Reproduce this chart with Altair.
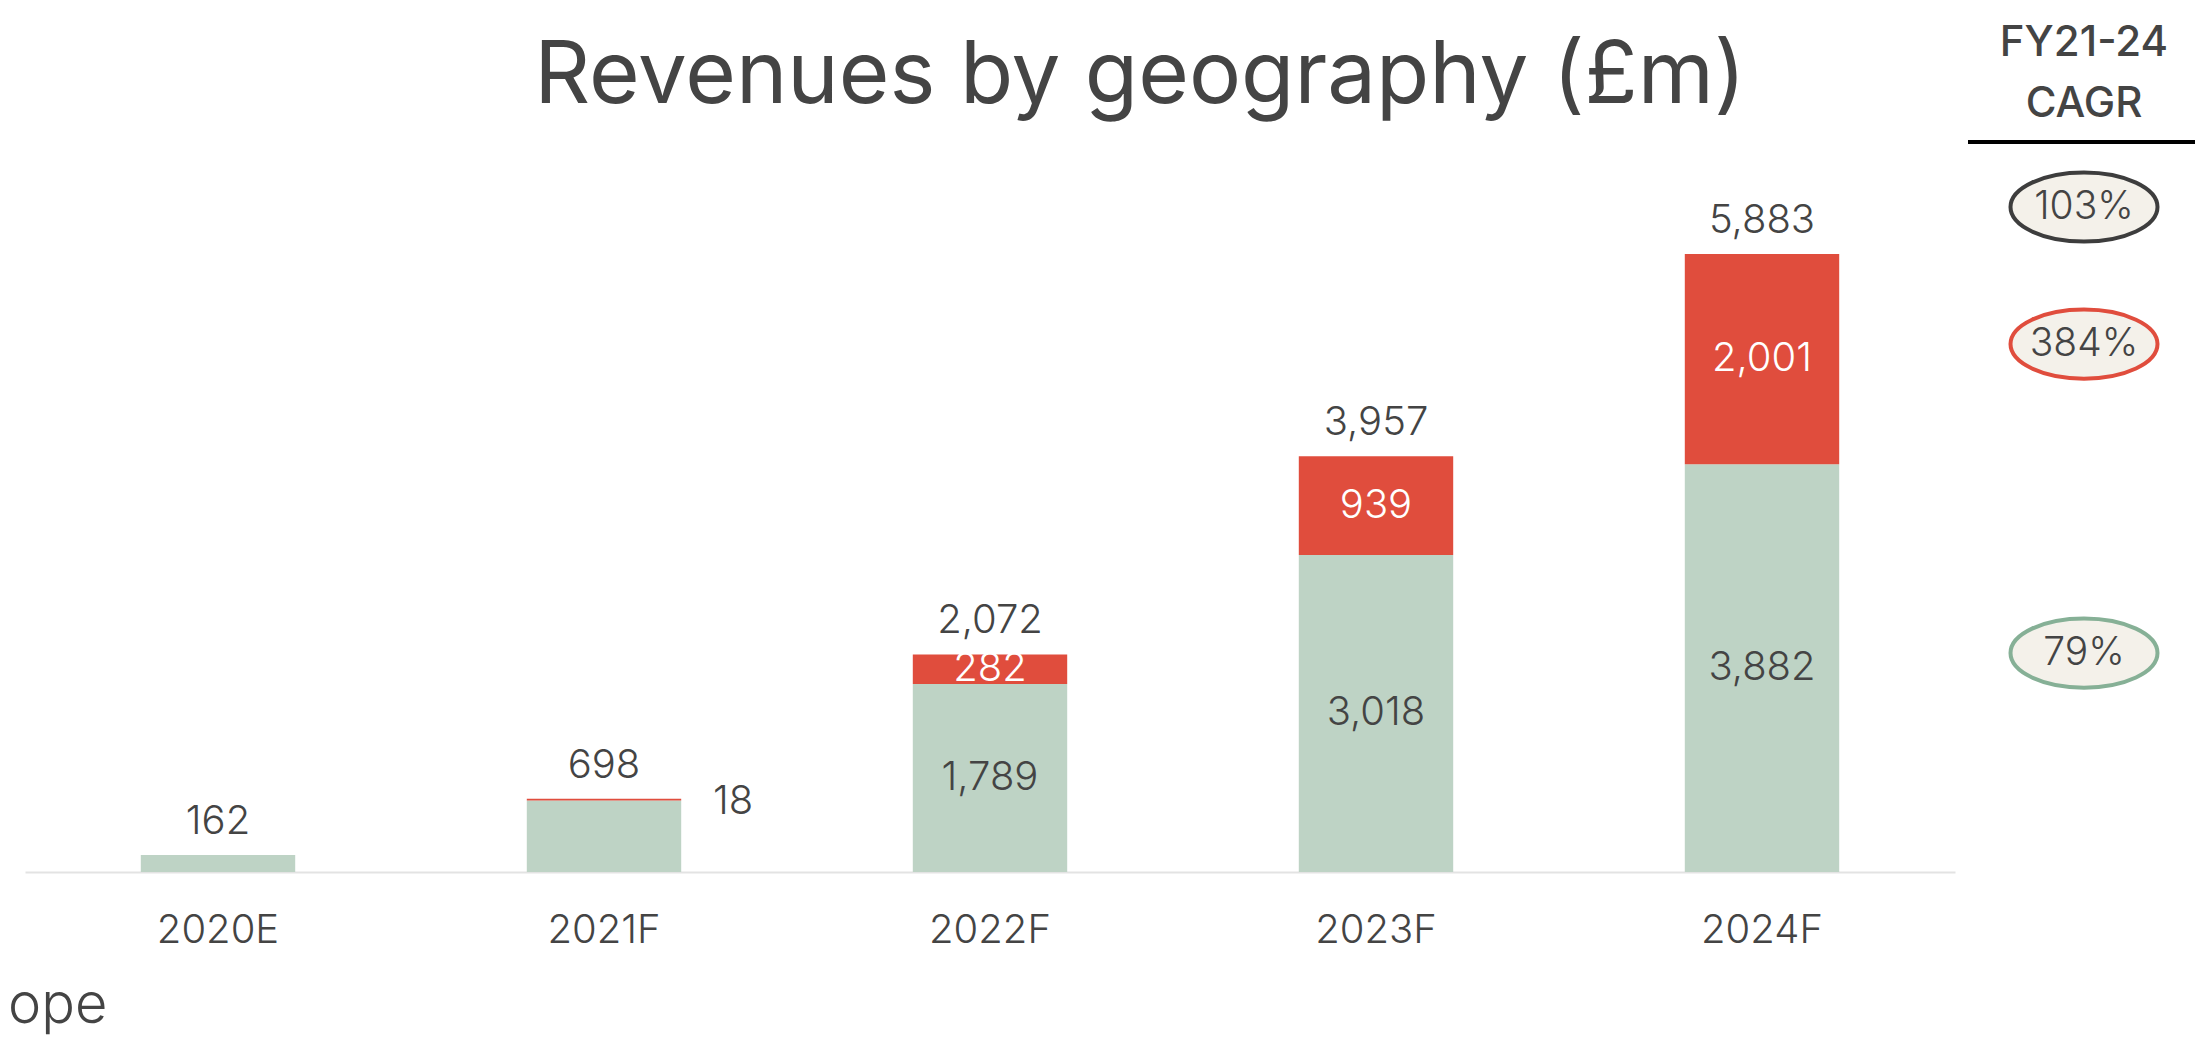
import altair as alt
import pandas as pd

# ---------------- data ----------------
years = ["2020E", "2021F", "2022F", "2023F", "2024F"]
uk_values = [162, 680, 1789, 3018, 3882]
europe_values = [0, 18, 282, 939, 2001]
total_values = [162, 698, 2072, 3957, 5883]

cagr_labels = ["103%", "384%", "79%"]
cagr_series = ["Total", "Europe", "UK"]

title_text = "Revenues by geography (£m)"
header_lines = ["FY21-24", "CAGR"]
legend_fragment = "ope"

# ---------------- styles ----------------
GREEN = "#bed3c5"
RED = "#e04d3d"
TEXT = "#444444"
FONT = "Inter"
LW = 300
BADGE_FILL = "#f4f1ea"
BADGE_STROKE = {"Total": "#3d3d3d", "Europe": "#e04d3d", "UK": "#86b096"}

W, H = 1930, 864
Y_MAX = 8225

rows = []
for yr, u, e in zip(years, uk_values, europe_values):
    rows.append({"year": yr, "segment": "UK", "value": u, "order": 0})
    rows.append({"year": yr, "segment": "Europe", "value": e, "order": 1})
bars_df = pd.DataFrame(rows)
totals_df = pd.DataFrame({"year": years, "total": total_values})

x_enc = alt.X(
    "year:N",
    sort=years,
    scale=alt.Scale(paddingInner=0.6, paddingOuter=0.3),
    axis=alt.Axis(
        title=None,
        labelAngle=0,
        labelFont=FONT,
        labelFontSize=40,
        labelFontWeight=LW,
        labelColor=TEXT,
        labelPadding=38,
        ticks=False,
        domainColor="#e3e3e3",
        domainWidth=2,
        grid=False,
    ),
)
y_scale = alt.Scale(domain=[0, Y_MAX], nice=False, zero=True)

bars = alt.Chart(bars_df).mark_bar().encode(
    x=x_enc,
    y=alt.Y("value:Q", stack="zero", scale=y_scale, axis=None),
    color=alt.Color(
        "segment:N",
        scale=alt.Scale(domain=["UK", "Europe"], range=[GREEN, RED]),
        legend=None,
    ),
    order=alt.Order("order:Q", sort="ascending"),
)

stacked = alt.Chart(bars_df).transform_stack(
    stack="value",
    groupby=["year"],
    as_=["v0", "v1"],
    sort=[alt.SortField("order", order="ascending")],
).transform_calculate(mid="(datum.v0 + datum.v1) / 2")

seg_labels = stacked.transform_filter(
    "datum.value >= 1000 || (datum.segment == 'Europe' && datum.value >= 100)"
).mark_text(font=FONT, fontSize=40, fontWeight=LW, baseline="middle", align="center").encode(
    x=alt.X("year:N", sort=years),
    y=alt.Y("mid:Q", stack=None, scale=y_scale, axis=None),
    text=alt.Text("value:Q", format=","),
    color=alt.when(alt.datum.segment == "Europe")
    .then(alt.value("white"))
    .otherwise(alt.value(TEXT)),
)

side_labels = stacked.transform_filter(
    "datum.segment == 'Europe' && datum.value > 0 && datum.value < 100"
).mark_text(font=FONT, fontSize=40, fontWeight=LW, baseline="middle", align="center",
            dx=129, dy=3, color=TEXT).encode(
    x=alt.X("year:N", sort=years),
    y=alt.Y("v1:Q", stack=None, scale=y_scale, axis=None),
    text=alt.Text("value:Q", format=","),
)

total_labels = alt.Chart(totals_df).mark_text(
    font=FONT, fontSize=40, fontWeight=LW, baseline="alphabetic", align="center", dy=-21, color=TEXT
).encode(
    x=alt.X("year:N", sort=years),
    y=alt.Y("total:Q", stack=None, scale=y_scale, axis=None),
    text=alt.Text("total:Q", format=","),
)

# ---------------- annotations ----------------
title = alt.Chart(pd.DataFrame({"t": [title_text]})).mark_text(
    font=FONT, fontSize=87, color=TEXT, align="center", baseline="alphabetic"
).encode(text="t:N", x=alt.value(1115), y=alt.value(95))

header1 = alt.Chart(pd.DataFrame({"t": [header_lines[0]]})).mark_text(
    font=FONT, fontSize=42, fontWeight=500, color=TEXT, align="center", baseline="alphabetic"
).encode(text="t:N", x=alt.value(2059), y=alt.value(48))
header2 = alt.Chart(pd.DataFrame({"t": [header_lines[1]]})).mark_text(
    font=FONT, fontSize=42, fontWeight=500, color=TEXT, align="center", baseline="alphabetic"
).encode(text="t:N", x=alt.value(2059), y=alt.value(109))

header_rule = alt.Chart(pd.DataFrame({"a": [0]})).mark_rule(
    color="black", strokeWidth=4
).encode(x=alt.value(1943), x2=alt.value(2171), y=alt.value(134))

# badges anchored to the 2024 bar
last_uk, last_eu, last_total = uk_values[-1], europe_values[-1], total_values[-1]
badge_total_df = pd.DataFrame({"label": [cagr_labels[0]], "series": [cagr_series[0]], "anchor": [last_total]})
badge_seg_df = pd.DataFrame({
    "label": cagr_labels[1:],
    "series": cagr_series[1:],
    "anchor": [last_uk + last_eu / 2, last_uk / 2],
})

ELLIPSE = "M -1 0 A 1 0.47 0 1 0 1 0 A 1 0.47 0 1 0 -1 0 Z"
stroke_scale = alt.Scale(domain=list(BADGE_STROKE.keys()), range=list(BADGE_STROKE.values()))


def badge(df, y_off):
    base = alt.Chart(df)
    shape = base.mark_point(
        shape=ELLIPSE, size=21609, filled=False, fill=BADGE_FILL, fillOpacity=1,
        strokeWidth=4, opacity=1
    ).encode(
        x=alt.value(2059),
        y=alt.Y("anchor:Q", scale=y_scale, axis=None),
        yOffset=alt.value(y_off),
        stroke=alt.Stroke("series:N", scale=stroke_scale, legend=None),
    )
    txt = base.mark_text(
        font=FONT, fontSize=39, fontWeight=LW, color=TEXT, align="center", baseline="middle", dy=y_off
    ).encode(
        x=alt.value(2059),
        y=alt.Y("anchor:Q", scale=y_scale, axis=None),
        text="label:N",
    )
    return shape + txt


badges_total = badge(badge_total_df, -47)
badges_seg = badge(badge_seg_df, -15)

legend_txt = alt.Chart(pd.DataFrame({"t": [legend_fragment]})).mark_text(
    font=FONT, fontSize=56, fontWeight=LW, color=TEXT, align="left", baseline="alphabetic"
).encode(text="t:N", x=alt.value(-17), y=alt.value(1015))

chart = alt.layer(
    bars, seg_labels, side_labels, total_labels,
    title, header1, header2, header_rule,
    badges_total, badges_seg, legend_txt,
).properties(
    width=W,
    height=H,
    autosize=alt.AutoSizeParams(type="none"),
    padding={"left": 17, "top": 0, "right": 240, "bottom": 173},
    background="white",
).configure_view(stroke=None)

chart.save("out.html", embed_options={"renderer": "svg", "actions": False})
